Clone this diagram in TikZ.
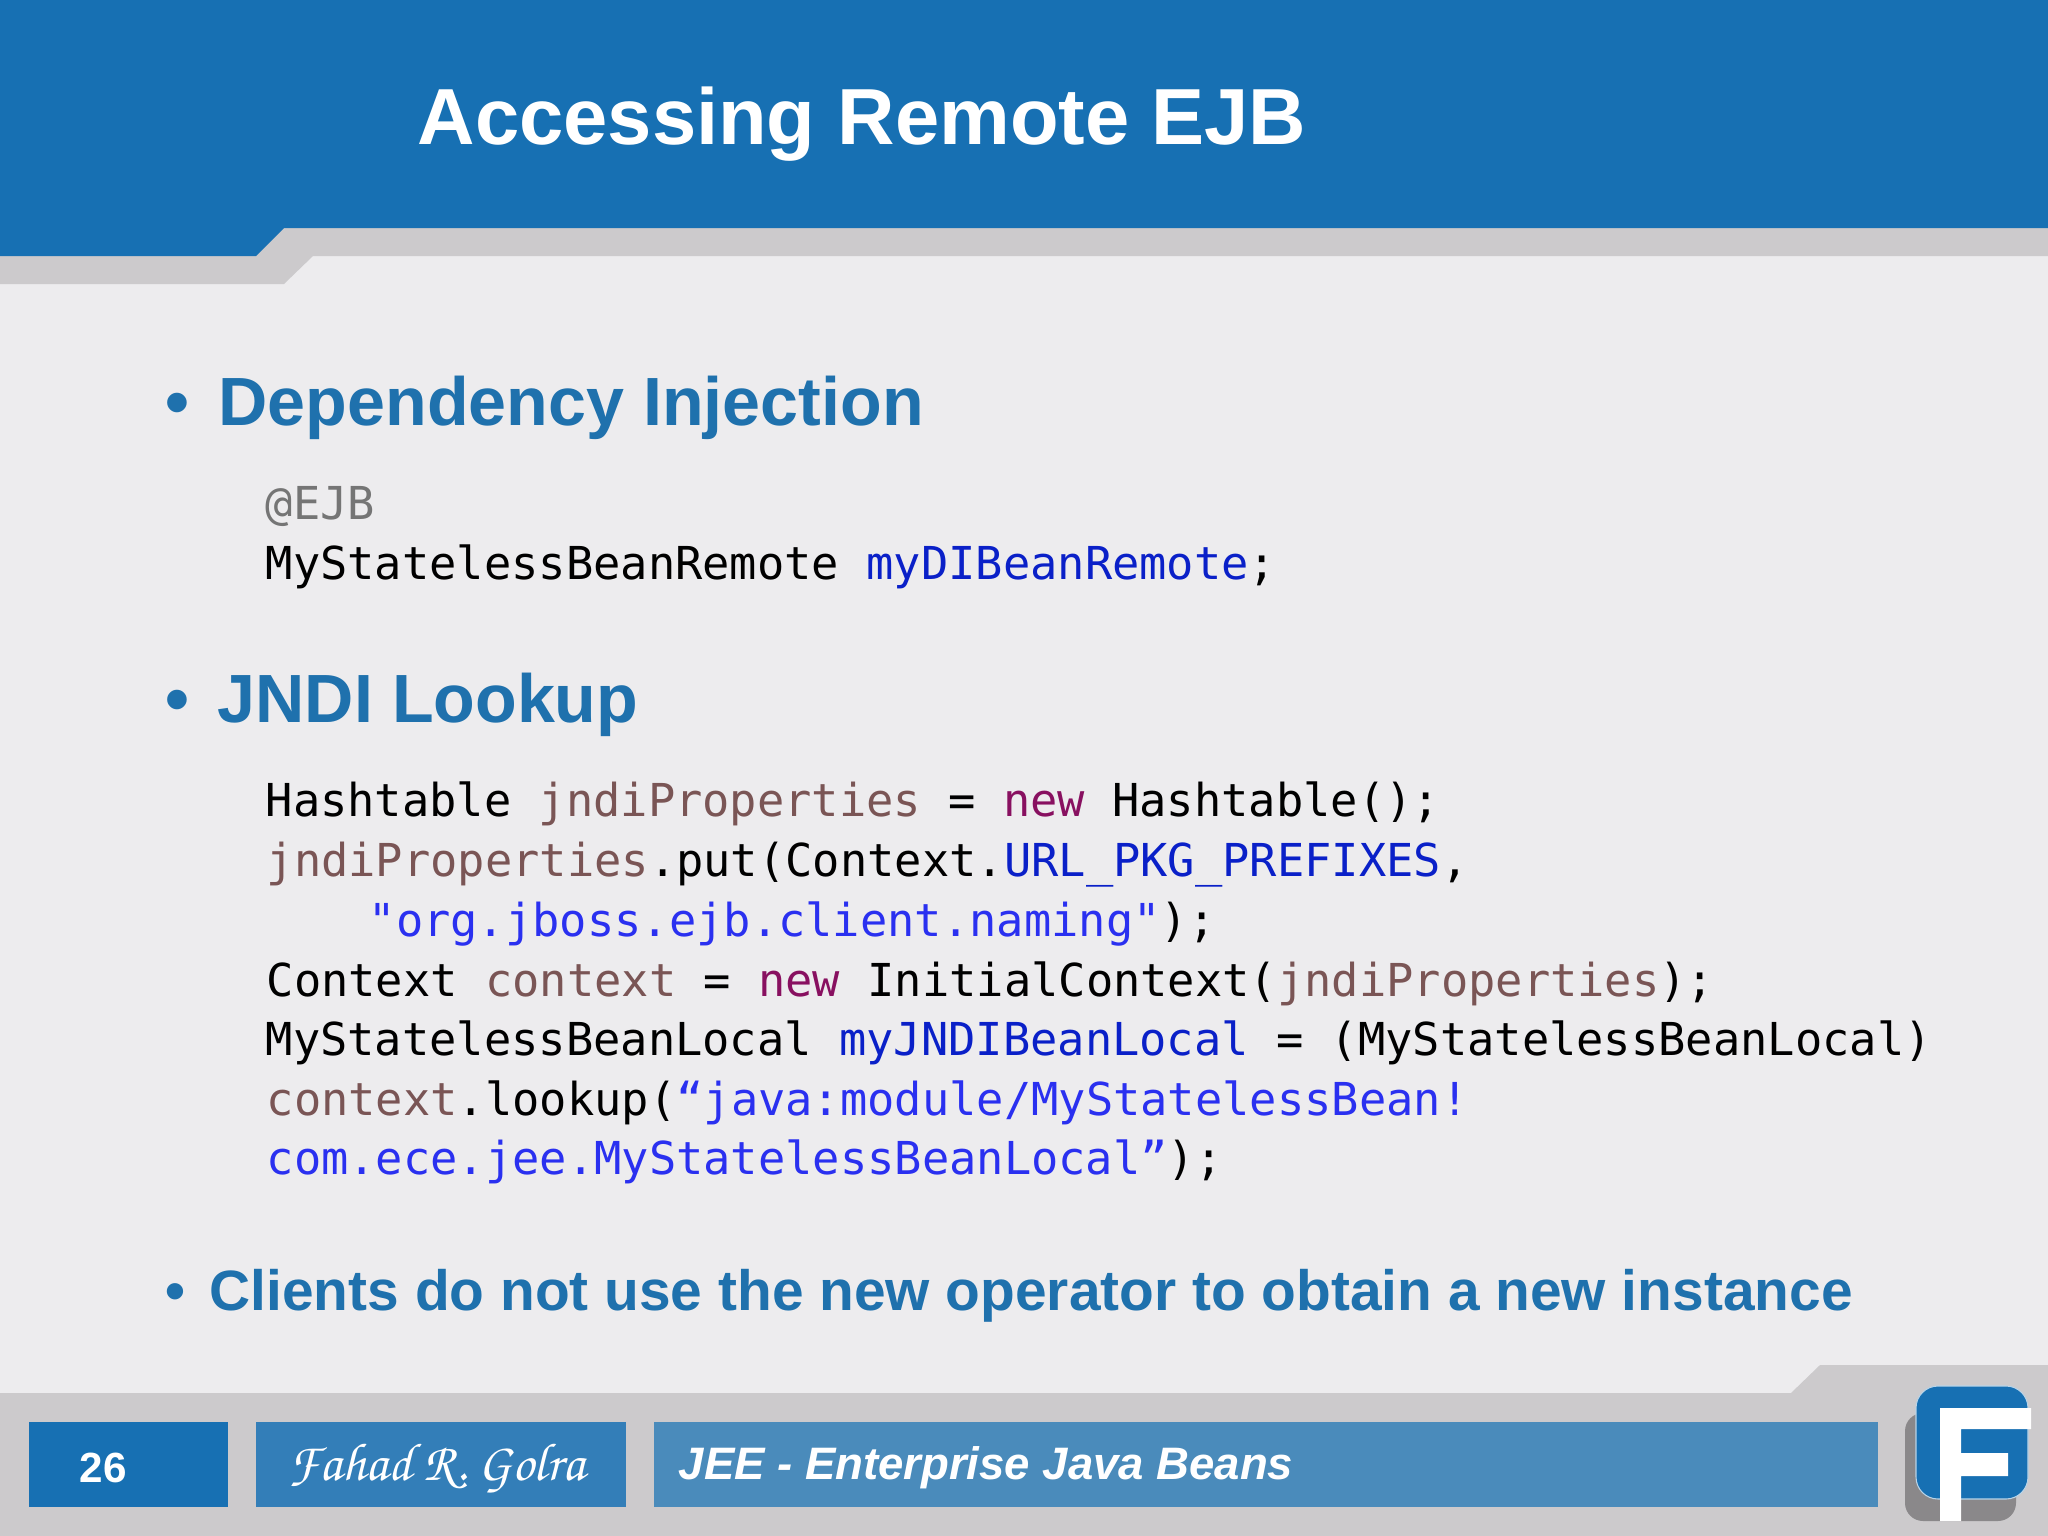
\documentclass[tikz,border=0pt]{standalone}
\usepackage[T1]{fontenc}
\usepackage{fontspec}
\setmainfont{Liberation Sans}
\setmonofont{DejaVu Sans Mono}
\definecolor{headblue}{HTML}{1770B3}
\definecolor{barblue}{HTML}{337EB8}
\definecolor{pageblue}{HTML}{4A8BBB}
\definecolor{headtext}{HTML}{1F71AD}
\definecolor{pagegrey}{HTML}{EDECEE}
\definecolor{bandgrey}{HTML}{CCCACC}
\definecolor{logoshadow}{HTML}{8A888A}
\definecolor{annot}{HTML}{757575}
\definecolor{localvar}{HTML}{7A5555}
\definecolor{keyword}{HTML}{881060}
\definecolor{field}{HTML}{0A20C8}
\definecolor{strval}{HTML}{2A30F0}
\newcommand{\lv}[1]{\textcolor{localvar}{#1}}
\newcommand{\kw}[1]{\textcolor{keyword}{#1}}
\newcommand{\fd}[1]{\textcolor{field}{#1}}
\newcommand{\st}[1]{\textcolor{strval}{#1}}
\tikzset{
    title/.style={anchor=base west, text=white, font=\fontsize{22.62}{26}\bfseries},
    topic/.style={anchor=base west, text=headtext, font=\fontsize{19.4}{23}\bfseries},
    smalltopic/.style={anchor=base west, text=headtext, font=\fontsize{16.17}{20}\bfseries},
    codeline/.style={anchor=base west, inner sep=0pt, font=\fontsize{12.9}{15}\ttfamily},
    footbox/.style={minimum height=85*0.01cm, anchor=north west, inner sep=0pt}
}
\begin{document}
\begin{tikzpicture}[x=0.01cm, y=-0.01cm]
    \useasboundingbox (0, 0) rectangle (2048, 1536);
    \fill[pagegrey] (0, 0) rectangle (2048, 1536);
    % header band
    \fill[bandgrey] (0, 250) -- (256, 250) -- (284, 222) -- (2048, 222) -- (2048, 256) -- (313, 256) -- (284, 284) -- (0, 284) -- cycle;
    \fill[headblue] (0, 0) -- (2048, 0) -- (2048, 228) -- (284, 228) -- (256, 256) -- (0, 256) -- cycle;
    \node[title, inner sep=0pt] (heading) at (417, 144) {Accessing Remote EJB};
    % bullets
    \node[topic, inner sep=0pt] (dot1) at (165, 425) {•};
    \node[topic, inner sep=0pt] (topic1) at (218, 425) {Dependency Injection};
    \node[codeline, text=annot] (ejb) at (265, 519) {@EJB};
    \node[codeline] (dibean) at (265, 579) {MyStatelessBeanRemote \fd{myDIBeanRemote};};
    \node[topic, inner sep=0pt] (dot2) at (165, 722) {•};
    \node[topic, inner sep=0pt] (topic2) at (217, 722) {JNDI Lookup};
    \node[codeline] (code1) at (265, 816) {Hashtable \lv{jndiProperties} = \kw{new} Hashtable();};
    \node[codeline] (code2) at (266, 876) {\lv{jndiProperties}.put(Context.\fd{URL\_PKG\_PREFIXES},};
    \node[codeline] (code3) at (368, 936) {\st{"org.jboss.ejb.client.naming"});};
    \node[codeline] (code4) at (266, 996) {Context \lv{context} = \kw{new} InitialContext(\lv{jndiProperties});};
    \node[codeline] (code5) at (265, 1055) {MyStatelessBeanLocal \fd{myJNDIBeanLocal} = (MyStatelessBeanLocal)};
    \node[codeline] (code6) at (266, 1115) {\lv{context}.lookup(\st{“java:module/MyStatelessBean!}};
    \node[codeline] (code7) at (266, 1174) {\st{com.ece.jee.MyStatelessBeanLocal”});};
    \node[smalltopic, inner sep=0pt] (dot3) at (165, 1310) {•};
    \node[smalltopic, inner sep=0pt] (topic3) at (209, 1310) {Clients do not use the new operator to obtain a new instance};
    % footer
    \fill[bandgrey] (0, 1393) -- (1791, 1393) -- (1820, 1365) -- (2048, 1365) -- (2048, 1536) -- (0, 1536) -- cycle;
    \node[footbox, fill=headblue, minimum width=199*0.01cm] (pagebox) at (28, 1421) {};
    \node[footbox, fill=barblue, minimum width=370*0.01cm] (namebox) at (255, 1421) {};
    \node[footbox, fill=pageblue, minimum width=1224*0.01cm] (coursebox) at (653, 1421) {};
    \node[anchor=base west, inner sep=0pt, text=white, font=\fontsize{12}{14}\bfseries] (pageno) at (79, 1482) {26};
    \node[anchor=base west, inner sep=0pt, text=white, font=\fontsize{15.2}{18}\usefont{T1}{pzc}{mb}{it}] (author) at (288, 1480) {Fahad R. Golra};
    \node[anchor=base west, inner sep=0pt, text=white, font=\fontsize{12.94}{15}\bfseries\itshape] (course) at (678, 1479) {JEE - Enterprise Java Beans};
    % logo
    \fill[logoshadow, rounded corners=18*0.01cm] (1905, 1413) rectangle (2016, 1521);
    \draw[fill=headblue, draw=white!70!headblue, line width=0.3pt, rounded corners=22*0.01cm] (1916, 1386) rectangle (2028, 1499);
    \fill[white] (1940, 1521) -- (1940, 1408) -- (2031, 1408) -- (2031, 1429) -- (1961, 1429) -- (1961, 1453) -- (2008, 1453) -- (2008, 1476) -- (1961, 1476) -- (1961, 1521) -- cycle;
\end{tikzpicture}
\end{document}
